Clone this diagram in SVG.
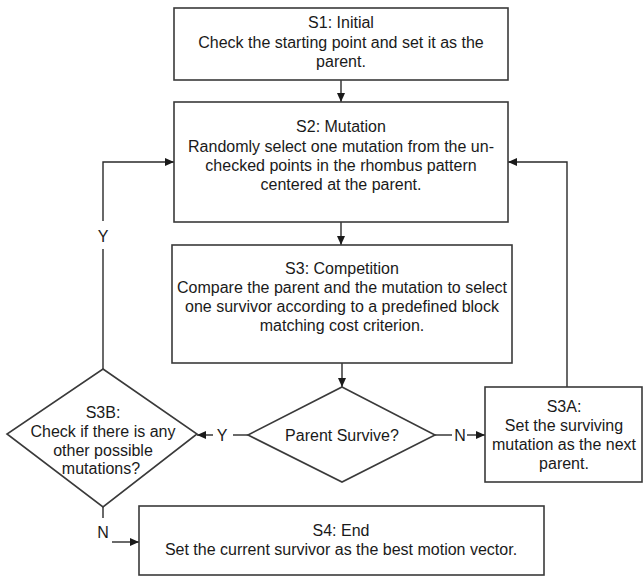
<svg xmlns="http://www.w3.org/2000/svg" width="644" height="578" viewBox="0 0 644 578">
<style>
  .box { fill: #ffffff; stroke: #3a3a3a; stroke-width: 1.6; }
  .t { font-family: "Liberation Sans", Arial, sans-serif; font-size: 16px; fill: #1a1a1a; text-anchor: middle; }
  .ln { fill: none; stroke: #2a2a2a; stroke-width: 1.4; }
  .ar { fill: none; stroke: #2a2a2a; stroke-width: 1.4; marker-end: url(#ah); }
</style>
<defs>
  <marker id="ah" markerUnits="userSpaceOnUse" markerWidth="9" markerHeight="8" refX="9" refY="4" orient="auto">
    <path d="M0,0 L9,4 L0,8 z" fill="#1a1a1a"/>
  </marker>
</defs>
<rect width="644" height="578" fill="#ffffff"/>

<g id="connectors">
  <path class="ar" d="M341,80 V102"/>
  <path class="ar" d="M341,222 V245"/>
  <path class="ar" d="M342,363 V387"/>
  <path class="ln" d="M248,435 H233"/>
  <path class="ar" d="M213,435 H197"/>
  <text class="t" x="222" y="441">Y</text>
  <path class="ln" d="M435,435 H452"/>
  <path class="ar" d="M467,435 H485"/>
  <text class="t" x="460" y="441">N</text>
  <path class="ln" d="M103,369 V249"/>
  <text class="t" x="103" y="242">Y</text>
  <path class="ar" d="M103,221 V162 H174"/>
  <path class="ar" d="M567,387 V162 H508"/>
  <path class="ln" d="M103,507 V518"/>
  <text class="t" x="103" y="538">N</text>
  <path class="ar" d="M112,542 H139"/>
</g>

<g id="S1">
  <rect class="box" x="174" y="8" width="334" height="72"/>
  <text class="t" x="341" y="28">S1: Initial</text>
  <text class="t" x="341" y="48">Check the starting point and set it as the</text>
  <text class="t" x="341" y="67">parent.</text>
</g>

<g id="S2">
  <rect class="box" x="174" y="102" width="334" height="120"/>
  <text class="t" x="341" y="132">S2: Mutation</text>
  <text class="t" x="341" y="152">Randomly select one mutation from the un-</text>
  <text class="t" x="341" y="171">checked points in the rhombus pattern</text>
  <text class="t" x="341" y="190">centered at the parent.</text>
</g>

<g id="S3">
  <rect class="box" x="172" y="245" width="340" height="118"/>
  <text class="t" x="342" y="274">S3: Competition</text>
  <text class="t" x="342" y="293">Compare the parent and the mutation to select</text>
  <text class="t" x="342" y="312">one survivor according to a predefined block</text>
  <text class="t" x="342" y="331">matching cost criterion.</text>
</g>

<g id="ParentSurvive">
  <polygon class="box" points="342,387 435,435 342,482 248,435"/>
  <text class="t" x="342" y="441">Parent Survive?</text>
</g>

<g id="S3B">
  <polygon class="box" points="103,369 197,434 103,507 7,434"/>
  <text class="t" x="103" y="418">S3B:</text>
  <text class="t" x="103" y="437">Check if there is any</text>
  <text class="t" x="103" y="456">other possible</text>
  <text class="t" x="101" y="474">mutations?</text>
</g>

<g id="S3A">
  <rect class="box" x="485" y="387" width="157" height="95"/>
  <text class="t" x="564" y="412">S3A:</text>
  <text class="t" x="564" y="431">Set the surviving</text>
  <text class="t" x="564" y="450">mutation as the next</text>
  <text class="t" x="564" y="469">parent.</text>
</g>

<g id="S4">
  <rect class="box" x="139" y="506" width="405" height="69"/>
  <text class="t" x="341" y="536">S4: End</text>
  <text class="t" x="341" y="555">Set the current survivor as the best motion vector.</text>
</g>
</svg>
